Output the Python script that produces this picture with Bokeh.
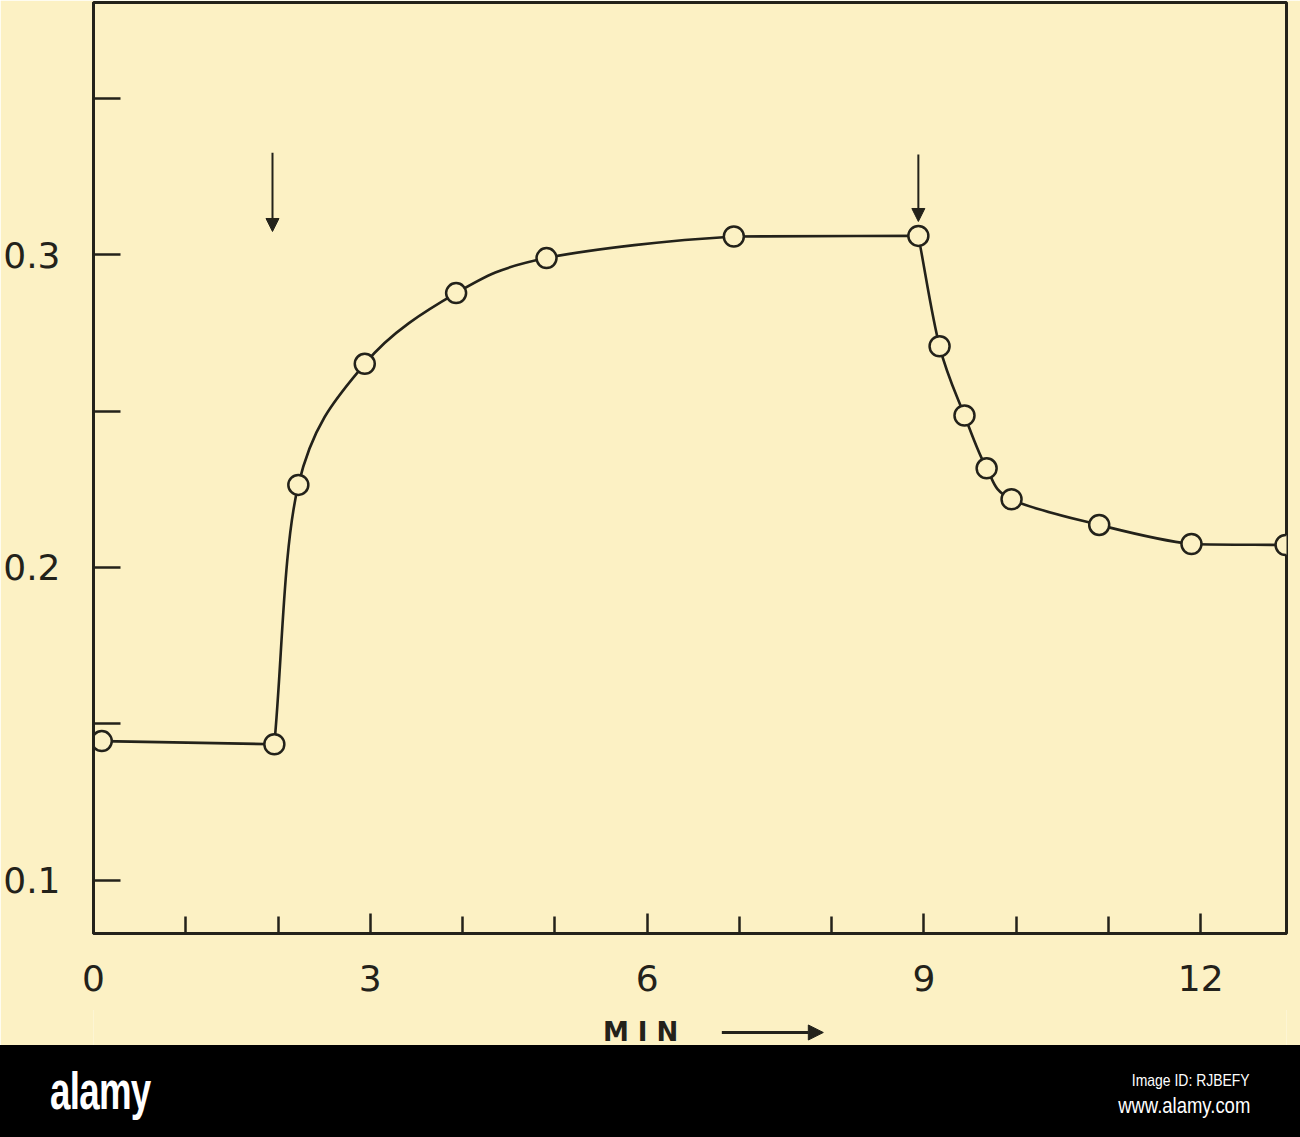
from bokeh.plotting import figure
from bokeh.models import (FixedTicker, Label, Arrow, NormalHead, Range1d, ColumnDataSource, Div)
from bokeh.layouts import column
from bokeh.embed import file_html
from bokeh.resources import INLINE

# ---- data ----
minutes = [0.09, 1.96, 2.22, 2.94, 3.93, 4.91, 6.94, 8.94, 9.17, 9.44, 9.68, 9.95, 10.90, 11.90, 12.92]
reading = [0.1445, 0.1435, 0.2264, 0.2651, 0.2877, 0.2989, 0.3058, 0.3060,
           0.2707, 0.2486, 0.2317, 0.2218, 0.2136, 0.2075, 0.2072]
# pieces of the drawn curve (index ranges); corners at the pieces' joins
pieces = [(0, 1), (1, 7), (7, 14)]

x_ticks = [0, 3, 6, 9, 12]
x_minor = [1, 2, 4, 5, 7, 8, 10, 11]
y_ticks = [0.1, 0.2, 0.3]
y_minor = [0.15, 0.25, 0.35]
y_labels = {0.1: "0.1", 0.2: "0.2", 0.3: "0.3"}

# event arrows (minute, top, bottom)
event_x = [1.94, 8.94]
event_top = [0.3326, 0.3320]
event_bottom = [0.3074, 0.3106]

x_title = "M I N"
x_title_at = 5.93
x_arrow = [6.81, 7.91]

footer_logo = "alamy"
footer_id = "Image ID: RJBEFY"
footer_url = "www.alamy.com"

BG = "#FCF1C4"
INK = "#23221A"
FONT = "DejaVu Sans"

W = 1300
LEFT, RIGHT = 93, 14
x_range = Range1d(0, 12.93)

p = figure(width=W, height=1010, output_backend="svg", toolbar_location=None,
           x_range=x_range, y_range=Range1d(0.083, 0.3806),
           min_border_left=LEFT, min_border_right=RIGHT, min_border_top=2, min_border_bottom=77)
p.background_fill_color = BG
p.border_fill_color = BG
p.outline_line_color = INK
p.outline_line_width = 3
p.grid.visible = False

for ax in (p.xaxis[0], p.yaxis[0]):
    ax.axis_line_color = INK
    ax.axis_line_width = 3
    ax.major_tick_line_color = INK
    ax.minor_tick_line_color = INK
    ax.major_tick_line_width = 2.5
    ax.minor_tick_line_width = 2.5
    ax.major_tick_out = 0
    ax.minor_tick_out = 0
    ax.major_label_text_color = INK
    ax.major_label_text_font = FONT
    ax.major_label_text_font_size = "36px"

p.xaxis.ticker = FixedTicker(ticks=x_ticks, minor_ticks=x_minor)
p.xaxis.major_tick_in = 20
p.xaxis.minor_tick_in = 17
p.xaxis.major_label_standoff = 31

p.yaxis.ticker = FixedTicker(ticks=y_ticks, minor_ticks=y_minor)
p.yaxis.major_label_overrides = y_labels
p.yaxis.major_tick_in = 27
p.yaxis.minor_tick_in = 27
p.yaxis.major_label_standoff = 33


def clamp(v, a, b):
    lo, hi = min(a, b), max(a, b)
    return max(lo, min(hi, v))


# smooth curve: Catmull-Rom pieces converted to cubic Bezier segments
bx0, by0, bx1, by1, cx0, cy0, cx1, cy1 = [], [], [], [], [], [], [], []
for a, b in pieces:
    px = minutes[a:b + 1]
    py = reading[a:b + 1]
    n = len(px)
    tx, ty = [], []
    for i in range(n):
        if i == 0:
            tx.append(px[1] - px[0]); ty.append(py[1] - py[0])
        elif i == n - 1:
            tx.append(px[i] - px[i - 1]); ty.append(py[i] - py[i - 1])
        else:
            tx.append((px[i + 1] - px[i - 1]) / 2); ty.append((py[i + 1] - py[i - 1]) / 2)
    for i in range(n - 1):
        bx0.append(px[i]); by0.append(py[i])
        bx1.append(px[i + 1]); by1.append(py[i + 1])
        cx0.append(clamp(px[i] + tx[i] / 3, px[i], px[i + 1]))
        cy0.append(clamp(py[i] + ty[i] / 3, py[i], py[i + 1]))
        cx1.append(clamp(px[i + 1] - tx[i + 1] / 3, px[i], px[i + 1]))
        cy1.append(clamp(py[i + 1] - ty[i + 1] / 3, py[i], py[i + 1]))

curve = ColumnDataSource(dict(x0=bx0, y0=by0, x1=bx1, y1=by1, cx0=cx0, cy0=cy0, cx1=cx1, cy1=cy1))
p.bezier(x0="x0", y0="y0", x1="x1", y1="y1", cx0="cx0", cy0="cy0", cx1="cx1", cy1="cy1",
         source=curve, line_color=INK, line_width=2.6)

p.scatter(minutes, reading, marker="circle", size=20, fill_color=BG,
          line_color=INK, line_width=2.5)

for xe, yt, yb in zip(event_x, event_top, event_bottom):
    p.add_layout(Arrow(end=NormalHead(size=13, fill_color=INK, line_color=INK, line_width=1),
                       x_start=xe, y_start=yt, x_end=xe, y_end=yb,
                       line_color=INK, line_width=2))

# strip under the axis holding the x title and its arrow (same x scale as the chart)
s = figure(width=W, height=36, output_backend="svg", toolbar_location=None,
           x_range=x_range, y_range=Range1d(0, 36),
           min_border_left=LEFT, min_border_right=RIGHT, min_border_top=0, min_border_bottom=0)
s.margin = (-1, 0, 0, 0)
s.axis.visible = False
s.grid.visible = False
s.outline_line_color = None
s.background_fill_color = BG
s.border_fill_color = BG
s.add_layout(Label(x=x_title_at, y=14, text=x_title, text_align="center", text_baseline="middle",
                   text_font=FONT, text_font_size="26px", text_font_style="bold",
                   text_color=INK))
s.add_layout(Arrow(end=NormalHead(size=15, fill_color=INK, line_color=INK, line_width=1),
                   x_start=x_arrow[0], y_start=13, x_end=x_arrow[1], y_end=13,
                   line_color=INK, line_width=3))

# black footer band
footer_html = (
    '<div style="position:relative;width:1300px;height:92px;background:#000;overflow:hidden;'
    'font-family:\'Liberation Sans\',Arial,sans-serif;color:#fff;">'
    '<div style="position:absolute;left:50px;top:21px;font-size:51px;font-weight:bold;'
    'letter-spacing:-1px;transform:scaleX(0.72);transform-origin:left top;line-height:1;">'
    + footer_logo + '</div>'
    '<div style="position:absolute;right:50px;top:27px;font-size:17px;'
    'transform:scaleX(0.82);transform-origin:right top;line-height:1;white-space:nowrap;">'
    + footer_id + '</div>'
    '<div style="position:absolute;right:50px;top:50px;font-size:22px;'
    'transform:scaleX(0.84);transform-origin:right top;line-height:1;white-space:nowrap;">'
    + footer_url + '</div>'
    '</div>'
)
footer = Div(text=footer_html, width=W, height=92,
             styles={"background-color": "black", "margin": "0", "padding": "0"})

layout = column(p, s, footer, spacing=0)
open("out.html", "w").write(file_html(layout, INLINE))
